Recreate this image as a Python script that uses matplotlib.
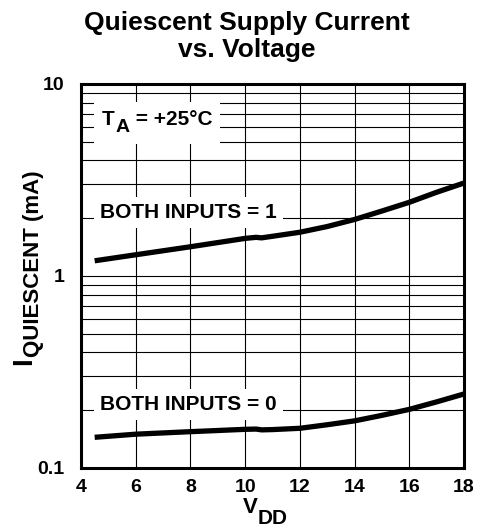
import matplotlib
matplotlib.use('Agg')
import matplotlib.pyplot as plt
from matplotlib.patches import Rectangle
from matplotlib.transforms import Bbox
from matplotlib.ticker import LogLocator, NullFormatter

plt.rcParams['font.family'] = ['Liberation Sans', 'DejaVu Sans']
plt.rcParams['font.weight'] = 'bold'

# values
vdd = [4.5, 6, 8, 10, 10.4, 10.6, 11, 12, 13, 14, 15, 16, 17, 18]
i_both_one = [1.20, 1.29, 1.42, 1.57, 1.59, 1.58, 1.61, 1.69, 1.81, 1.97, 2.18, 2.42, 2.73, 3.05]
i_both_zero = [0.1445, 0.150, 0.1546, 0.159, 0.1595, 0.158, 0.1585, 0.161, 0.168, 0.176, 0.188, 0.202, 0.221, 0.243]

x_ticks = [4, 6, 8, 10, 12, 14, 16, 18]
y_ticks = [0.1, 1, 10]
y_ticklabels = ['0.1', '1', '10']

box = dict(facecolor='white', edgecolor='none', boxstyle='square,pad=0.3')

fig = plt.figure(figsize=(4.92, 5.27), dpi=100)
ax = fig.add_axes([81 / 492, 1 - 468 / 527, 383 / 492, 384 / 527])
ax.set_yscale('log')
ax.set_xlim(4, 18)
ax.set_ylim(0.1, 10)
ax.set_xticks(x_ticks)
ax.set_yticks(y_ticks)
ax.set_yticklabels(y_ticklabels)
ax.yaxis.set_minor_locator(LogLocator(base=10, subs=range(2, 10)))
ax.yaxis.set_minor_formatter(NullFormatter())
ax.tick_params(which='both', length=0)
ax.tick_params(axis='x', pad=8, labelsize=14)
ax.tick_params(axis='y', pad=12, labelsize=14)
ax.grid(True, which='both', color='black', lw=0.8)
for s in ax.spines.values():
    s.set_linewidth(2.2)

ax.plot(vdd, i_both_one, color='black', lw=3.8, solid_capstyle='butt', zorder=4)
ax.plot(vdd, i_both_zero, color='black', lw=3.8, solid_capstyle='butt', zorder=4)

ax.text(4.69, 2.0, 'BOTH INPUTS = 1', fontsize=15, va='baseline', bbox=box, zorder=3)
ax.text(4.69, 0.2, 'BOTH INPUTS = 0', fontsize=15, va='baseline', bbox=box, zorder=3)

# T_A = +25°C
tT = ax.text(4.77, 6.1, 'T', fontsize=15, va='baseline', zorder=4)
tA = ax.annotate('A', xy=(1, 0), xycoords=tT, xytext=(0.5, -5), textcoords='offset points',
                 fontsize=14, va='bottom', zorder=4)
tR = ax.annotate(' = +25\u00b0C', xy=(1, 0), xycoords=(tA, tT), fontsize=15, va='bottom', zorder=4)

# white backing box around the three pieces
fig.canvas.draw()
r = fig.canvas.get_renderer()
bb = Bbox.union([t.get_window_extent(r) for t in (tT, tA, tR)]).padded(8)
bb_ax = bb.transformed(ax.transAxes.inverted())
ax.add_patch(Rectangle((bb_ax.x0, bb_ax.y0), bb_ax.width, bb_ax.height, transform=ax.transAxes,
                       facecolor='white', edgecolor='none', zorder=3))

# title
fig.text(247 / 492, 1 - 11 / 527, 'Quiescent Supply Current\nvs. Voltage', ha='center', va='top',
         fontsize=19, fontweight='bold', linespacing=1.18)

# y label
tI = fig.text(24 / 492, 1 - 365 / 527, 'I', rotation=90, ha='center', va='bottom', fontsize=20)
ax.annotate('QUIESCENT (mA)', xy=(1, 1), xycoords=tI, xytext=(5, 0), textcoords='offset points',
            rotation=90, ha='right', va='bottom', fontsize=16, annotation_clip=False)

# x label
tV = fig.text(250 / 492, 1 - 497 / 527, 'V', ha='center', va='top', fontsize=16)
ax.annotate('DD', xy=(1, 0), xycoords=tV, xytext=(0, -4), textcoords='offset points',
            ha='left', va='baseline', fontsize=15, annotation_clip=False)

fig.savefig('out.png', dpi=100)
